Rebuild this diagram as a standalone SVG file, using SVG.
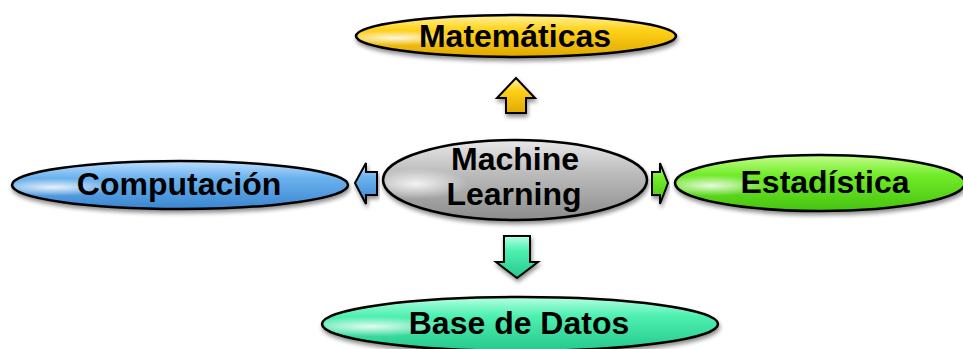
<svg xmlns="http://www.w3.org/2000/svg" width="963" height="349" viewBox="0 0 963 349">
  <defs>
    <linearGradient id="gYellow" x1="0" y1="0" x2="0" y2="1">
      <stop offset="0" stop-color="#fff3a0"/>
      <stop offset="0.35" stop-color="#ffd21a"/>
      <stop offset="1" stop-color="#e0a800"/>
    </linearGradient>
    <linearGradient id="gGray" x1="0" y1="0" x2="0" y2="1">
      <stop offset="0" stop-color="#e8e8e8"/>
      <stop offset="0.4" stop-color="#bdbdbd"/>
      <stop offset="1" stop-color="#8c8c8c"/>
    </linearGradient>
    <linearGradient id="gBlue" x1="0" y1="0" x2="0" y2="1">
      <stop offset="0" stop-color="#bfe0ff"/>
      <stop offset="0.35" stop-color="#6cb2ee"/>
      <stop offset="1" stop-color="#3a86d0"/>
    </linearGradient>
    <linearGradient id="gGreen" x1="0" y1="0" x2="0" y2="1">
      <stop offset="0" stop-color="#c8ff90"/>
      <stop offset="0.35" stop-color="#72ec2a"/>
      <stop offset="1" stop-color="#46c410"/>
    </linearGradient>
    <linearGradient id="gTeal" x1="0" y1="0" x2="0" y2="1">
      <stop offset="0" stop-color="#b6ffe4"/>
      <stop offset="0.35" stop-color="#4ef0b0"/>
      <stop offset="1" stop-color="#26c88c"/>
    </linearGradient>
    <radialGradient id="shine" cx="0.12" cy="0.55" r="0.2">
      <stop offset="0" stop-color="#ffffff" stop-opacity="0.85"/>
      <stop offset="1" stop-color="#ffffff" stop-opacity="0"/>
    </radialGradient>
    <filter id="shadow" x="-10%" y="-30%" width="120%" height="170%">
      <feGaussianBlur in="SourceAlpha" stdDeviation="2"/>
      <feOffset dx="1" dy="3" result="b"/>
      <feComponentTransfer><feFuncA type="linear" slope="0.45"/></feComponentTransfer>
      <feMerge><feMergeNode/><feMergeNode in="SourceGraphic"/></feMerge>
    </filter>
  </defs>
  <style>
    .node { stroke: #000; stroke-width: 2.5; filter: url(#shadow); }
    .arrow { stroke: #000; stroke-width: 2; stroke-linejoin: miter; filter: url(#shadow); }
    .label { font-family: "Liberation Sans", Arial, sans-serif; font-weight: bold; font-size: 32px; fill: #000; text-anchor: middle; }
  </style>

  <g id="connectors">
    <polygon class="arrow" fill="url(#gYellow)" points="516,78 535,98 526,98 526,113 506,113 506,98 497,98"/>
    <polygon class="arrow" fill="url(#gBlue)" points="355,183 366,163 366,172 377,172 377,195 366,195 366,204"/>
    <polygon class="arrow" fill="url(#gGreen)" points="668,183 660,163 660,172 652,172 652,195 660,195 660,204"/>
    <polygon class="arrow" fill="url(#gTeal)" points="517,278 538,262 530,262 530,236 504,236 504,262 496,262"/>
  </g>

  <g id="node-matematicas">
    <ellipse class="node" cx="516" cy="36" rx="160" ry="21" fill="url(#gYellow)"/>
    <ellipse cx="516" cy="36" rx="158" ry="19" fill="url(#shine)"/>
    <text class="label" x="515" y="47">Matemáticas</text>
  </g>

  <g id="node-machine-learning">
    <ellipse class="node" cx="515" cy="180" rx="132" ry="40" fill="url(#gGray)"/>
    <ellipse cx="515" cy="180" rx="130" ry="38" fill="url(#shine)"/>
    <text class="label" x="515" y="170">Machine</text>
    <text class="label" x="514" y="205">Learning</text>
  </g>

  <g id="node-computacion">
    <ellipse class="node" cx="180" cy="185" rx="168" ry="24" fill="url(#gBlue)"/>
    <ellipse cx="180" cy="185" rx="166" ry="22" fill="url(#shine)"/>
    <text class="label" x="179" y="195">Computación</text>
  </g>

  <g id="node-estadistica">
    <ellipse class="node" cx="820" cy="183" rx="145" ry="28" fill="url(#gGreen)"/>
    <ellipse cx="820" cy="183" rx="143" ry="26" fill="url(#shine)"/>
    <text class="label" x="825" y="193">Estadística</text>
  </g>

  <g id="node-base-de-datos">
    <ellipse class="node" cx="520" cy="324" rx="198" ry="27" fill="url(#gTeal)"/>
    <ellipse cx="520" cy="324" rx="196" ry="25" fill="url(#shine)"/>
    <text class="label" x="519" y="334">Base de Datos</text>
  </g>
</svg>
